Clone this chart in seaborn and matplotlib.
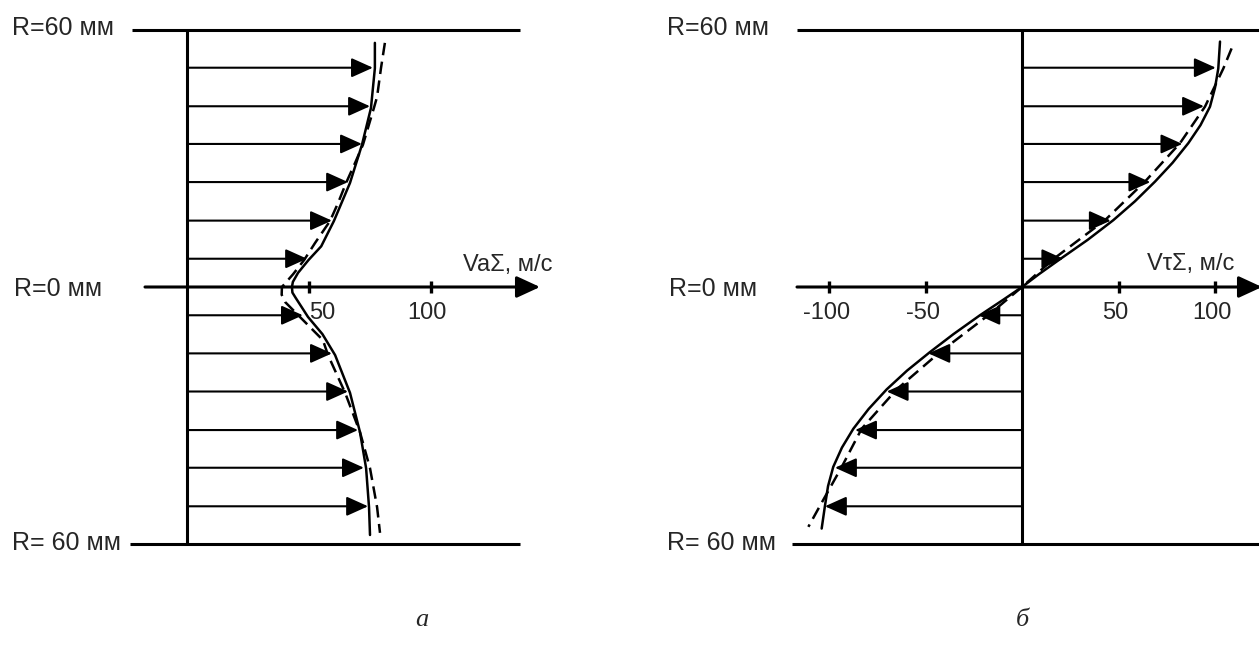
import numpy as np
import pandas as pd
import matplotlib
matplotlib.use("Agg")
import matplotlib.pyplot as plt
import seaborn as sns

# ---------------- data ----------------
# radius of the velocity arrows, mm
arrow_r = [51.2, 42.2, 33.4, 24.5, 15.5, 6.6, -6.6, -15.5, -24.4, -33.4, -42.2, -51.2]
# panel a: axial velocity VaΣ at the arrows, m/s
va_arrow_v = [76.2, 75.0, 71.7, 66.0, 59.4, 49.2, 47.5, 59.4, 66.0, 70.1, 72.5, 74.2]
# panel б: tangential velocity VτΣ at the arrows, m/s
vt_arrow_v = [100.4, 94.3, 83.1, 66.5, 46.0, 21.4, -22.6, -48.5, -70.1, -86.5, -96.9, -102.1]

# panel a, solid curve
va_solid_r = [57.0, 51.1, 41.8, 33.2, 24.3, 15.4, 9.5, 6.3, 3.3, 1.2, 0.0, -1.3, -2.5, -4.7, -7.0,
              -11.0, -15.9, -24.7, -33.9, -42.3, -51.4, -57.9]
va_solid_v = [77.0, 77.0, 75.4, 71.7, 66.8, 60.2, 55.0, 49.8, 45.5, 43.4, 43.0, 43.2, 44.5, 47.0, 49.6,
              55.5, 60.7, 66.8, 70.9, 73.4, 74.6, 75.0]
# panel a, dashed curve
va_dash_r = [57.0, 51.1, 44.4, 41.8, 33.2, 29.0, 24.3, 19.6, 15.4, 10.3, 6.3, 3.0, 0.0, -1.8, -3.5,
             -7.0, -12.4, -15.9, -24.7, -33.9, -42.3, -51.4, -57.4]
va_dash_v = [81.1, 79.5, 77.9, 76.6, 72.1, 68.9, 65.2, 61.9, 58.6, 52.5, 48.0, 43.5, 38.9, 38.8, 40.2,
             46.3, 55.7, 57.8, 64.8, 70.9, 75.0, 77.9, 79.1]

# panel б, solid curve
vt_solid_r = [57.3, 51.0, 46.5, 42.1, 37.8, 33.6, 29.0, 24.6, 20.0, 15.6, 11.0, 6.5, 3.0, 0.0,
              -3.0, -6.6, -11.0, -15.2, -19.5, -23.9, -28.5, -33.1, -37.5, -42.0, -46.5, -51.1, -56.4]
vt_solid_v = [102.6, 101.7, 100.0, 97.4, 92.5, 86.2, 78.0, 68.9, 58.5, 47.3, 34.0, 19.7, 8.8, 0.0,
              -9.8, -21.8, -35.5, -47.7, -59.5, -70.1, -79.5, -87.4, -93.3, -97.8, -100.5, -102.1, -103.8]
# panel б, dashed curve
vt_dash_r = [55.7, 51.0, 42.1, 33.6, 24.6, 15.6, 6.5, 0.0,
             -6.6, -15.2, -23.9, -33.1, -42.0, -51.1, -56.0]
vt_dash_v = [108.6, 104.3, 94.8, 81.9, 63.7, 43.0, 16.2, 0.0,
             -17.5, -42.5, -64.9, -83.1, -93.4, -104.7, -110.7]

va_ticks = [50, 100]
vt_ticks = [-100, -50, 50, 100]
r_edge = 60

# ---------------- layout ----------------
W, H = 1259, 657
sns.set_theme(style="white")
plt.rcParams["font.family"] = ["Liberation Sans", "DejaVu Sans"]

fig = plt.figure(figsize=(W / 100, H / 100), dpi=100)
fig.patch.set_facecolor("white")

# vertical mapping: r=0 at y=287 px, 4.283 px per mm
y0_px, py_mm = 287.0, 4.283
ylim = (-(H - y0_px) / py_mm, y0_px / py_mm)

axL = fig.add_axes([0, 0, 629 / W, 1])
x0L, sxL = 187.0, 2.44
axL.set_xlim((0 - x0L) / sxL, (629 - x0L) / sxL)
axL.set_ylim(*ylim)

axR = fig.add_axes([629 / W, 0, 630 / W, 1])
x0R, sxR = 1022.0, 1.93
axR.set_xlim((629 - x0R) / sxR, (1259 - x0R) / sxR)
axR.set_ylim(*ylim)

for ax in (axL, axR):
    ax.set_axis_off()

LW_FRAME = 2.2
LW_ARROW = 1.5
LW_CURVE = 1.8
ARROW_STYLE = "-|>,head_length=0.6,head_width=0.27"
AXIS_ARROW = "-|>,head_length=0.65,head_width=0.3"


def frame(ax, x0, sx, top_from, bot_from, right_px, axis_from, axis_tip):
    lo_t = (top_from - x0) / sx
    lo_b = (bot_from - x0) / sx
    hi = (right_px - x0) / sx
    ax.plot([lo_t, hi], [r_edge, r_edge], color="black", lw=LW_FRAME, solid_capstyle="butt", clip_on=False)
    ax.plot([lo_b, hi], [-r_edge, -r_edge], color="black", lw=LW_FRAME, solid_capstyle="butt", clip_on=False)
    ax.plot([0, 0], [-r_edge, r_edge], color="black", lw=LW_FRAME, solid_capstyle="butt")
    ax.annotate("", xy=((axis_tip - x0) / sx, 0), xytext=((axis_from - x0) / sx, 0),
                arrowprops=dict(arrowstyle=AXIS_ARROW, mutation_scale=22, lw=LW_FRAME,
                                color="black", shrinkA=0, shrinkB=0),
                annotation_clip=False)


frame(axL, x0L, sxL, 132, 130, 520, 145, 540)
frame(axR, x0R, sxR, 797, 792, 1262, 797, 1262)


def arrows(ax, vals):
    for r, v in zip(arrow_r, vals):
        ax.annotate("", xy=(v, r), xytext=(0, r),
                    arrowprops=dict(arrowstyle=ARROW_STYLE, mutation_scale=22, lw=LW_ARROW,
                                    color="black", shrinkA=0, shrinkB=0))


arrows(axL, va_arrow_v)
arrows(axR, vt_arrow_v)


def curve(ax, v, r, dashed=False):
    df = pd.DataFrame({"v": v, "r": r})
    sns.lineplot(data=df, x="v", y="r", orient="y", sort=False, estimator=None,
                 color="black", lw=LW_CURVE, ax=ax)
    line = ax.lines[-1]
    if dashed:
        line.set_dashes((5.0, 2.6))


curve(axL, va_solid_v, va_solid_r)
curve(axL, va_dash_v, va_dash_r, dashed=True)
curve(axR, vt_solid_v, vt_solid_r)
curve(axR, vt_dash_v, vt_dash_r, dashed=True)

# ticks on the velocity axes
FS = 17
for ax, ticks in ((axL, va_ticks), (axR, vt_ticks)):
    ax.plot(ticks, [0] * len(ticks), ls="none", marker="|", ms=9, mew=2.4, color="black")
for t in va_ticks:
    ha = "left" if t == 50 else "center"
    dx = 0 if t == 50 else -3
    axL.annotate(str(t), xy=(t, 0), xytext=(dx, -11), textcoords="offset points",
                 ha=ha, va="top", fontsize=FS)
for t in vt_ticks:
    axR.annotate(str(t), xy=(t, 0), xytext=(-2, -11), textcoords="offset points",
                 ha="center", va="top", fontsize=FS)


def ftext(px, py, s, **kw):
    fig.text(px / W, 1 - py / H, s, **kw)


FS_R = 18
for xpx in (12, 667):
    ftext(xpx, 35, "R=60 мм", fontsize=FS_R, ha="left", va="baseline")
    ftext(xpx + 2, 296, "R=0 мм", fontsize=FS_R, ha="left", va="baseline")
    ftext(xpx, 550, "R= 60 мм", fontsize=FS_R, ha="left", va="baseline")

ftext(463, 271, "VaΣ, м/с", fontsize=FS, ha="left", va="baseline")
ftext(1147, 270, "VτΣ, м/с", fontsize=FS, ha="left", va="baseline")

ftext(422, 626, "а", fontsize=19, ha="center", va="baseline",
      family=["Liberation Serif", "DejaVu Serif"], style="italic")
ftext(1022, 626, "б", fontsize=19, ha="center", va="baseline",
      family=["Liberation Serif", "DejaVu Serif"], style="italic")

fig.savefig("out.png", dpi=100, facecolor="white")
